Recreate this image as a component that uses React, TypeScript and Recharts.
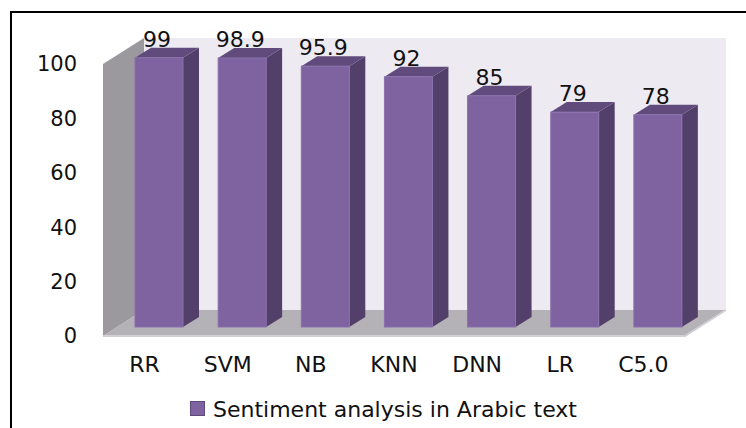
import React from "react";
import { BarChart, Bar, XAxis, YAxis, ReferenceArea, LabelList, Legend } from "recharts";

const metodos = ["RR", "SVM", "NB", "KNN", "DNN", "LR", "C5.0"];
const precision = [99, 98.9, 95.9, 92, 85, 79, 78];
const ticksY = [0, 20, 40, 60, 80, 100];
const serie = "Sentiment analysis in Arabic text";

const datos = metodos.map((m, i) => ({ metodo: m, valor: precision[i] }));

const FUENTE = "'DejaVu Sans', Verdana, sans-serif";
const PROF = { x: 41, y: 26 }; // fondo de las paredes
const BARRA = { x: 16, y: 10 }; // fondo de cada barra
const DESPL = { x: 14, y: 9 }; // barras metidas hacia atrás

function Paredes(props: any) {
  const { x, y, width, height } = props;
  const L = x, R = x + width, T = y, B = y + height;
  const dx = PROF.x, dy = PROF.y;
  return (
    <g>
      <rect x={L + dx} y={T - dy} width={width} height={height} fill="#EDEAF2" />
      <polygon points={`${L},${T} ${L + dx},${T - dy} ${L + dx},${B - dy} ${L},${B}`} fill="#9B999E" />
      <polygon points={`${L},${B} ${L + dx},${B - dy} ${R + dx},${B - dy} ${R},${B}`} fill="#B4B1B7" />
      <polyline points={`${L},${B} ${R},${B} ${R + dx},${B - dy}`} fill="none" stroke="#D2D0D5" strokeWidth={2} />
    </g>
  );
}

function Barra3D(props: any) {
  const { x, y, width, height } = props;
  if (!height) return null;
  const fx = x + DESPL.x, fy = y - DESPL.y;
  const dx = BARRA.x, dy = BARRA.y;
  const r = fx + width, b = fy + height;
  return (
    <g>
      <polygon points={`${r},${fy} ${r + dx},${fy - dy} ${r + dx},${b - dy} ${r},${b}`} fill="#53406A" />
      <polygon points={`${fx},${fy} ${fx + dx},${fy - dy} ${r + dx},${fy - dy} ${r},${fy}`} fill="#604B7C" />
      <rect x={fx} y={fy} width={width} height={height} fill="#7F63A1" stroke="#8B71AD" strokeWidth={1} />
    </g>
  );
}

function Etiqueta(props: any) {
  const { x, y, width, value } = props;
  return (
    <text x={x + DESPL.x + width / 2 - 2} y={y - DESPL.y - BARRA.y - 1} textAnchor="middle"
      fontSize={22} fontFamily={FUENTE} fill="#111">
      {value}
    </text>
  );
}

function Leyenda(props: any) {
  const item = props.payload && props.payload[0];
  return (
    <div style={{ display: "flex", alignItems: "center", fontFamily: FUENTE, fontSize: 22, lineHeight: "24px", color: "#111" }}>
      <span style={{ width: 13, height: 13, background: "#7F63A1", border: "1px solid #5E4A7A", marginRight: 8, marginTop: -3 }} />
      <span>{item ? item.value : serie}</span>
    </div>
  );
}

export default function App() {
  return (
    <div style={{ position: "absolute", left: 0, top: 0, width: 746, height: 428, background: "#fff", overflow: "hidden" }}>
      <div style={{ position: "absolute", left: 10, top: 11, width: 736, height: 417, borderTop: "2px solid #000", borderLeft: "2px solid #000", boxSizing: "border-box" }} />
      <div style={{ position: "absolute", left: 0, top: 0 }}>
        <BarChart width={746} height={428} data={datos} margin={{ top: 64, right: 61, bottom: 62, left: 43 }}>
          <ReferenceArea y1={0} y2={100} shape={Paredes} ifOverflow="visible" />
          <XAxis dataKey="metodo" axisLine={false} tickLine={false} tickSize={0} tickMargin={20}
            tick={{ fontSize: 22, fontFamily: FUENTE, fill: "#111" }} interval={0} />
          <YAxis domain={[0, 100]} ticks={ticksY} width={60} axisLine={false} tickLine={false} tickSize={0} tickMargin={26}
            tick={{ fontSize: 21, fontFamily: FUENTE, fill: "#111" }} />
          <Bar dataKey="valor" name={serie} barSize={48} fill="#7F63A1" shape={Barra3D} isAnimationActive={false}>
            <LabelList dataKey="valor" content={Etiqueta} />
          </Bar>
          <Legend layout="vertical" align="center" verticalAlign="middle"
            wrapperStyle={{ left: 190, top: 398, width: 460, height: 24 }} content={Leyenda} />
        </BarChart>
      </div>
    </div>
  );
}
